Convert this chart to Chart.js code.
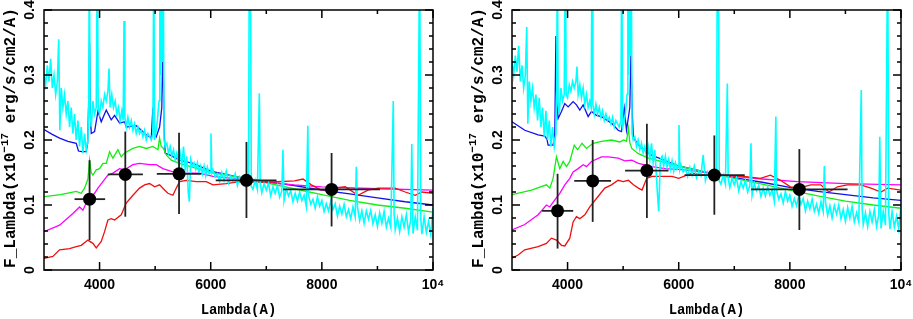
<!DOCTYPE html>
<html>
<head>
<meta charset="utf-8">
<script src="https://cdn.jsdelivr.net/npm/chart.js@4.4.1/dist/chart.umd.min.js"></script>
<style>
  body { margin: 0; background: #fff; overflow: hidden; width: 913px; height: 319px; position: relative; }
  .panel { position: absolute; top: 0; width: 468px; height: 319px; }
</style>
</head>
<body>
<div class="panel" style="left:-12px"><canvas id="leftChart" width="468" height="319"></canvas></div>
<div class="panel" style="left:456px"><canvas id="rightChart" width="468" height="319"></canvas></div>
<script>
// axis ticks
const xLabelTicks = [4000, 6000, 8000, 10000];
const xMajorTicks = [4000, 6000, 8000, 10000];
const xMinorTicks = [5000, 7000, 9000];
const yLabelTicks = [0, 0.1, 0.2, 0.3, 0.4];
const yLabelText = ['0', '0.1', '0.2', '0.3', '0.4'];
const yMinorTicks = [0.02, 0.04, 0.06, 0.08, 0.12, 0.14, 0.16, 0.18, 0.22, 0.24, 0.26, 0.28, 0.32, 0.34, 0.36, 0.38];
const yTitleParts = ['F_Lambda(x10', '\u221217', ' erg/s/cm2/A)'];

// ---- left panel models ----
const blueLamL = [3000,3140,3280,3430,3580,3620,3680,3760,3785,3805,3820,3835,3850,3910,3970,4030,4120,4210,4270,4360,4450,4480,4660,4840,4930,4960,4975,5020,5080,5120,5140,5160,5180,5260,5440,5680,6000,6500,7000,7500,8000,8500,9000,9500,10000];
const blueFluxL = [0.216,0.209,0.203,0.198,0.195,0.183,0.182,0.182,0.195,0.26,0.35,0.24,0.210,0.213,0.244,0.228,0.246,0.231,0.238,0.226,0.228,0.220,0.222,0.208,0.203,0.25,0.213,0.205,0.220,0.25,0.35,0.22,0.180,0.177,0.169,0.164,0.152,0.143,0.136,0.130,0.123,0.117,0.111,0.105,0.100];
const greenLamL = [3000,3300,3580,3670,3730,3790,3820,3850,3880,3940,4000,4060,4120,4180,4240,4330,4390,4450,4600,4720,4840,4960,5050,5080,5110,5150,5200,5290,5440,6000,6500,7000,7500,8000,8500,9000,9500,10000];
const greenFluxL = [0.113,0.116,0.121,0.118,0.126,0.14,0.169,0.15,0.146,0.154,0.156,0.164,0.164,0.182,0.172,0.185,0.174,0.180,0.187,0.190,0.187,0.190,0.185,0.203,0.19,0.187,0.177,0.169,0.164,0.150,0.143,0.134,0.125,0.116,0.107,0.100,0.095,0.089];
const magentaLamL = [3000,3280,3520,3640,3700,3760,3820,3910,3970,4060,4150,4240,4360,4450,4600,4720,4900,5020,5140,5320,5560,5800,6040,6500,7000,7500,8000,9000,10000];
const magentaFluxL = [0.059,0.069,0.087,0.097,0.092,0.103,0.110,0.118,0.126,0.136,0.146,0.149,0.156,0.154,0.162,0.164,0.162,0.162,0.156,0.151,0.149,0.149,0.144,0.140,0.135,0.131,0.128,0.125,0.123];
const redLamL = [3000,3160,3280,3460,3580,3670,3790,3880,3940,4030,4090,4150,4210,4270,4390,4480,4600,4720,4810,4900,4990,5080,5170,5230,5320,5380,5440,5560,5740,5920,6040,6280,6520,7000,7510,7660,7810,7990,8175,8420,8650,8830,9010,9320,9500,9680,9800,10000];
const redFluxL = [0.018,0.021,0.031,0.033,0.036,0.038,0.046,0.041,0.034,0.044,0.059,0.077,0.079,0.077,0.085,0.103,0.115,0.126,0.131,0.133,0.128,0.131,0.123,0.118,0.115,0.126,0.136,0.138,0.136,0.136,0.131,0.133,0.136,0.135,0.137,0.140,0.131,0.123,0.125,0.128,0.115,0.123,0.126,0.126,0.120,0.115,0.120,0.118];

// ---- right panel models ----
const blueLamR = [3000,3230,3470,3590,3630,3650,3740,3770,3790,3805,3830,3890,3950,4010,4100,4160,4220,4280,4370,4430,4520,4610,4700,4790,4910,4970,5020,5060,5120,5140,5165,5185,5300,5500,6000,6500,7000,7500,8000,8500,9000,9500,10000];
const blueFluxR = [0.228,0.215,0.208,0.206,0.201,0.192,0.192,0.21,0.36,0.26,0.233,0.244,0.256,0.251,0.259,0.254,0.246,0.254,0.236,0.244,0.238,0.236,0.231,0.226,0.215,0.213,0.249,0.215,0.25,0.33,0.24,0.203,0.19,0.177,0.160,0.150,0.142,0.135,0.127,0.121,0.116,0.111,0.107];
const greenLamR = [3000,3350,3620,3680,3740,3800,3860,3920,3980,4040,4120,4180,4260,4340,4460,4610,4790,4940,5010,5060,5095,5120,5155,5275,5455,6000,6500,7000,7500,8000,8500,9000,9500,10000];
const greenFluxR = [0.116,0.123,0.131,0.126,0.141,0.174,0.156,0.167,0.159,0.167,0.192,0.185,0.195,0.187,0.195,0.198,0.200,0.197,0.200,0.198,0.218,0.196,0.187,0.179,0.172,0.160,0.150,0.141,0.132,0.123,0.114,0.106,0.100,0.095];
const magentaLamR = [3000,3230,3470,3620,3680,3770,3860,3950,4040,4100,4190,4280,4340,4430,4610,4730,4910,5030,5155,5275,5520,5760,6120,6600,7000,7500,8135,9000,10000];
const magentaFluxR = [0.0615,0.070,0.085,0.100,0.097,0.108,0.118,0.131,0.141,0.151,0.156,0.162,0.159,0.167,0.174,0.174,0.172,0.168,0.169,0.164,0.159,0.156,0.154,0.149,0.144,0.140,0.136,0.133,0.131];
const redLamR = [3000,3110,3230,3470,3620,3710,3800,3890,3950,4040,4100,4160,4220,4310,4400,4520,4670,4790,4910,5000,5095,5185,5275,5340,5425,5520,5700,5880,6000,6240,6480,7170,7470,7650,7830,8010,8160,8375,8555,8705,8855,9035,9275,9460,9640,9760,10000];
const redFluxR = [0.018,0.023,0.031,0.036,0.041,0.049,0.046,0.038,0.037,0.049,0.074,0.082,0.079,0.085,0.097,0.110,0.126,0.131,0.138,0.136,0.138,0.131,0.126,0.123,0.141,0.144,0.144,0.144,0.141,0.149,0.146,0.144,0.141,0.146,0.138,0.128,0.126,0.131,0.131,0.120,0.128,0.131,0.131,0.126,0.120,0.126,0.123];

// ---- observed spectrum (cyan), same wavelength grid in both panels ----
const cyanLam = [
  3000,3030,3060,3090,3120,3150,3180,3210,3240,3265,3285,3310,3340,3370,3400,3430,3460,3490,3520,3550,3580,3610,3640,3670,3700,3730,3760,3790,
  3805,3815,3830,3850,3880,3910,3940,3960,3975,4000,4030,4060,4090,4120,4150,4170,4190,4220,4250,4280,4310,4340,4370,4400,4425,4440,4455,4480,4510,4540,4570,4600,4630,4660,4690,4720,4750,4780,4810,4840,4870,4900,4930,4960,4975,4990,5010,5040,5070,5085,5100,5115,5130,5145,5160,
  5180,5210,5240,5270,5300,5330,5360,5390,5420,5450,5480,5510,5540,5570,5595,5615,5640,5670,5700,5730,5760,5790,5820,5850,5880,5910,5940,5970,5990,6005,6020,
  6040,6080,6120,6160,6200,6240,6280,6320,6360,6400,
  6440,6480,6520,6560,6600,6640,6680,6695,6715,6730,
  6760,6800,6840,6875,6890,6920,6960,7000,7040,7080,
  7120,7160,7200,7240,7280,7300,7320,7360,7400,7440,
  7480,7520,7560,7600,7640,7680,7720,7748,7760,7800,
  7840,7880,7920,7960,8000,8040,8080,8120,8160,8200,
  8240,8280,8320,8360,8400,8440,8480,8520,8560,8600,
  8620,8640,8680,8720,8760,8800,8840,8880,8920,8960,
  9000,9040,9080,9120,9160,9200,9240,9285,9300,9320,
  9360,9400,9440,9480,9520,9560,9600,9618,9640,9680,
  9720,9760,9780,9800,9840,9880,9920,9960,10000
];
const cyanFluxL = [
  .300,.285,.315,.290,.325,.280,.300,.270,.290,.355,.215,.280,.250,.270,.240,.260,.220,.250,.210,.240,.200,.230,.190,.220,.180,.210,.185,.200,
  .260,.500,.240,.220,.260,.240,.250,.500,.250,.240,.260,.250,.270,.260,.275,.310,.250,.270,.250,.260,.240,.250,.230,.245,.230,.383,.235,.220,.235,.220,.230,.215,.225,.210,.220,.210,.215,.205,.215,.200,.210,.205,.200,.210,.500,.200,.210,.230,.260,.500,.300,.500,.320,.500,.200,
  .190,.195,.180,.190,.175,.185,.170,.180,.165,.180,.160,.190,.155,.175,.120,.105,.170,.160,.165,.155,.165,.150,.160,.148,.160,.145,.158,.148,.150,.210,.150,
  .154,.143,.148,.136,.150,.138,.152,.134,.144,.137,
  .148,.130,.143,.136,.143,.127,.139,.500,.500,.129,
  .124,.138,.124,.272,.133,.119,.133,.123,.134,.114,
  .128,.118,.130,.112,.122,.185,.107,.125,.114,.122,
  .105,.118,.106,.120,.107,.115,.098,.222,.115,.101,
  .109,.095,.113,.098,.107,.090,.102,.091,.106,.093,
  .102,.083,.098,.086,.101,.082,.093,.079,.097,.082,
  .159,.097,.076,.091,.072,.091,.078,.092,.071,.085,
  .067,.088,.072,.090,.066,.080,.066,.260,.087,.062,
  .080,.059,.082,.066,.085,.059,.077,.194,.056,.082,
  .061,.500,.079,.055,.082,.058,.075,.055,.095
];
const cyanFluxR = [
  .320,.300,.330,.305,.345,.290,.315,.280,.300,.374,.225,.290,.260,.280,.250,.270,.230,.265,.220,.250,.205,.245,.200,.230,.190,.220,.190,.210,
  .280,.500,.260,.240,.280,.260,.270,.500,.270,.265,.285,.275,.290,.280,.290,.313,.270,.285,.265,.280,.255,.270,.250,.260,.250,.500,.255,.240,.255,.240,.250,.235,.245,.230,.240,.230,.235,.225,.235,.220,.230,.225,.220,.230,.500,.220,.225,.240,.270,.500,.300,.500,.330,.500,.210,
  .200,.205,.190,.200,.185,.195,.180,.190,.175,.190,.170,.195,.165,.185,.150,.120,.090,.170,.175,.160,.175,.158,.170,.155,.168,.152,.165,.155,.158,.223,.155,
  .162,.151,.156,.144,.158,.146,.160,.142,.152,.145,
  .177,.138,.151,.144,.151,.135,.147,.500,.500,.137,
  .132,.146,.132,.287,.141,.127,.141,.131,.142,.122,
  .136,.126,.138,.120,.130,.195,.115,.133,.122,.130,
  .113,.126,.114,.128,.115,.123,.106,.236,.123,.109,
  .117,.103,.121,.106,.115,.098,.110,.099,.114,.101,
  .110,.091,.106,.094,.109,.090,.101,.087,.105,.090,
  .160,.105,.084,.099,.080,.099,.086,.100,.079,.093,
  .075,.096,.080,.098,.074,.088,.074,.277,.095,.070,
  .088,.067,.090,.074,.093,.067,.085,.205,.064,.090,
  .069,.500,.087,.063,.090,.066,.083,.063,.100
];

// ---- photometric points with error bars ----
const ptLamL = [3820, 4463, 5430, 6643, 8175];
const ptLamLoL = [3550, 4150, 5030, 6090, 7303];
const ptLamHiL = [4100, 4780, 5830, 7184, 9045];
const ptFluxL = [0.109, 0.147, 0.148, 0.138, 0.124];
const ptFluxLoL = [0.046, 0.082, 0.086, 0.080, 0.067];
const ptFluxHiL = [0.169, 0.213, 0.211, 0.197, 0.180];

const ptLamR = [3820, 4452, 5427, 6641, 8171];
const ptLamLoR = [3541, 4120, 5035, 6105, 7304];
const ptLamHiR = [4101, 4782, 5817, 7188, 9038];
const ptFluxR = [0.091, 0.137, 0.153, 0.146, 0.124];
const ptFluxLoR = [0.033, 0.074, 0.080, 0.085, 0.0615];
const ptFluxHiR = [0.148, 0.200, 0.225, 0.207, 0.186];

if (cyanLam.length !== cyanFluxL.length || cyanLam.length !== cyanFluxR.length) {
    console.error("cyan length mismatch", cyanLam.length, cyanFluxL.length, cyanFluxR.length);
}

// frame, inward ticks, rotated y labels and y title
const framePlugin = {
    id: 'frame',
    afterDraw(chart) {
        const { ctx, chartArea: { left, right, top, bottom }, scales: { x, y } } = chart;
        ctx.save();
        ctx.strokeStyle = '#000';
        ctx.lineWidth = 1.5;
        ctx.strokeRect(left, top, right - left, bottom - top);
        ctx.beginPath();
        const xTick = (v, len) => {
            const px = x.getPixelForValue(v);
            ctx.moveTo(px, bottom); ctx.lineTo(px, bottom - len);
            ctx.moveTo(px, top); ctx.lineTo(px, top + len);
        };
        const yTick = (v, len) => {
            const py = y.getPixelForValue(v);
            ctx.moveTo(left, py); ctx.lineTo(left + len, py);
            ctx.moveTo(right, py); ctx.lineTo(right - len, py);
        };
        xMajorTicks.forEach(v => xTick(v, 8));
        xMinorTicks.forEach(v => xTick(v, 4));
        yLabelTicks.forEach(v => yTick(v, 8));
        yMinorTicks.forEach(v => yTick(v, 4));
        ctx.stroke();

        ctx.fillStyle = '#000';
        ctx.font = 'bold 14px "Liberation Sans"';
        yLabelTicks.forEach((v, i) => {
            ctx.save();
            ctx.translate(left - 14, y.getPixelForValue(v));
            ctx.rotate(-Math.PI / 2);
            ctx.textAlign = 'center';
            ctx.textBaseline = 'middle';
            ctx.fillText(yLabelText[i], 0, 0);
            ctx.restore();
        });

        // y title with raised exponent
        const mainFont = 'bold 16px "Liberation Mono"';
        const supFont = 'bold 11px "Liberation Mono"';
        ctx.font = mainFont;
        const w1 = ctx.measureText(yTitleParts[0]).width;
        const w3 = ctx.measureText(yTitleParts[2]).width;
        ctx.font = supFont;
        const w2 = ctx.measureText(yTitleParts[1]).width;
        ctx.save();
        ctx.translate(left - 33, (top + bottom) / 2 - 2);
        ctx.rotate(-Math.PI / 2);
        ctx.textAlign = 'left';
        ctx.textBaseline = 'middle';
        let cx = -(w1 + w2 + w3) / 2;
        ctx.font = mainFont;
        ctx.fillText(yTitleParts[0], cx, 0);
        cx += w1;
        ctx.font = supFont;
        ctx.fillText(yTitleParts[1], cx, -6);
        cx += w2;
        ctx.font = mainFont;
        ctx.fillText(yTitleParts[2], cx, 0);
        ctx.restore();
        ctx.restore();
    }
};

function curve(lam, flux, color, order, width) {
    return {
        data: lam.map((l, i) => ({ x: l, y: flux[i] })),
        showLine: true,
        borderColor: color,
        borderWidth: width,
        pointRadius: 0,
        fill: false,
        order: order
    };
}

function buildChart(id, s) {
    const datasets = [
        curve(s.blueLam, s.blueFlux, '#1010ee', 6, 1.3),
        curve(s.greenLam, s.greenFlux, '#11ee11', 5, 1.3),
        curve(s.magentaLam, s.magentaFlux, '#ff00ff', 4, 1.3),
        curve(s.redLam, s.redFlux, '#ee1010', 3, 1.3),
        curve(cyanLam, s.cyanFlux, '#00ffff', 2, 1.6)
    ];
    s.ptLam.forEach((l, i) => {
        datasets.push({
            data: [{ x: s.ptLamLo[i], y: s.ptFlux[i] }, { x: s.ptLamHi[i], y: s.ptFlux[i] }],
            showLine: true, borderColor: '#222', borderWidth: 1.8, pointRadius: 0, order: 1
        });
        datasets.push({
            data: [{ x: l, y: s.ptFluxLo[i] }, { x: l, y: s.ptFluxHi[i] }],
            showLine: true, borderColor: '#222', borderWidth: 1.8, pointRadius: 0, order: 1
        });
    });
    datasets.push({
        data: s.ptLam.map((l, i) => ({ x: l, y: s.ptFlux[i] })),
        showLine: false, pointRadius: 6.5, pointBackgroundColor: '#000', pointBorderColor: '#000',
        pointBorderWidth: 0, order: 0
    });

    new Chart(document.getElementById(id), {
        type: 'scatter',
        data: { datasets },
        options: {
            responsive: false,
            animation: false,
            devicePixelRatio: 1,
            layout: { padding: { left: 0, right: 23, top: 10, bottom: 0 } },
            plugins: { legend: { display: false }, tooltip: { enabled: false } },
            scales: {
                x: {
                    type: 'linear', min: 3000, max: 10000,
                    afterFit: sc => { sc.height = 49; },
                    afterBuildTicks: sc => { sc.ticks = xLabelTicks.map(v => ({ value: v })); },
                    grid: { display: false, drawTicks: false },
                    border: { display: false },
                    ticks: {
                        padding: 7, color: '#000', autoSkip: false, maxRotation: 0,
                        font: { family: 'Liberation Sans', weight: 'bold', size: 14 },
                        callback: v => v === 10000 ? '10⁴' : String(v)
                    },
                    title: {
                        display: true, text: 'Lambda(A)', color: '#000',
                        font: { family: 'Liberation Mono', weight: 'bold', size: 14 },
                        padding: { top: 0, bottom: 0 }
                    }
                },
                y: {
                    type: 'linear', min: 0, max: 0.4,
                    afterFit: sc => { sc.width = 56; },
                    grid: { display: false, drawTicks: false },
                    border: { display: false },
                    ticks: { display: false },
                    title: { display: false }
                }
            }
        },
        plugins: [framePlugin]
    });
}

buildChart('leftChart', {
    blueLam: blueLamL, blueFlux: blueFluxL,
    greenLam: greenLamL, greenFlux: greenFluxL,
    magentaLam: magentaLamL, magentaFlux: magentaFluxL,
    redLam: redLamL, redFlux: redFluxL,
    cyanFlux: cyanFluxL,
    ptLam: ptLamL, ptLamLo: ptLamLoL, ptLamHi: ptLamHiL,
    ptFlux: ptFluxL, ptFluxLo: ptFluxLoL, ptFluxHi: ptFluxHiL
});
buildChart('rightChart', {
    blueLam: blueLamR, blueFlux: blueFluxR,
    greenLam: greenLamR, greenFlux: greenFluxR,
    magentaLam: magentaLamR, magentaFlux: magentaFluxR,
    redLam: redLamR, redFlux: redFluxR,
    cyanFlux: cyanFluxR,
    ptLam: ptLamR, ptLamLo: ptLamLoR, ptLamHi: ptLamHiR,
    ptFlux: ptFluxR, ptFluxLo: ptFluxLoR, ptFluxHi: ptFluxHiR
});
</script>
</body>
</html>
